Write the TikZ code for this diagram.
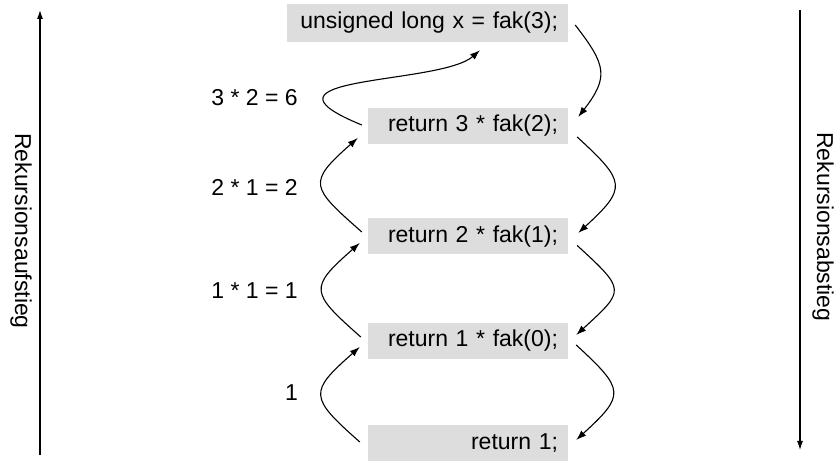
\documentclass[tikz,border=0pt]{standalone}
\usepackage{fontspec}
\setmainfont{Liberation Sans}
\usetikzlibrary{arrows.meta}
\definecolor{boxgray}{RGB}{221,221,221}
\begin{document}
\begin{tikzpicture}[x=1pt,y=1pt,
  font=\fontsize{23}{27}\selectfont,
  codebox/.style={fill=boxgray, inner xsep=10pt, inner ysep=0pt, minimum height=36pt, align=right},
  flow/.style={line width=1.1pt, -{Latex[length=10pt,width=7pt]}},
  axisline/.style={line width=1.1pt, -{Latex[length=9pt,width=6pt]}},
  lbl/.style={anchor=east, inner sep=0pt}
]
\useasboundingbox (0,0) rectangle (840,462);

% code boxes
\node[codebox, text width=261pt, minimum height=38pt] (b0) at (427.5,439) {unsigned long x = fak(3);};
\node[codebox, text width=180pt] (b1) at (468,336) {return 3 * fak(2);};
\node[codebox, text width=180pt] (b2) at (468,225.5) {return 2 * fak(1);};
\node[codebox, text width=180pt] (b3) at (468,121) {return 1 * fak(0);};
\node[codebox, text width=180pt] (b4) at (468,19) {return 1;};

% result labels
\node[lbl] (l0) at (298,364) {3 * 2 = 6};
\node[lbl] (l1) at (298,275) {2 * 1 = 2};
\node[lbl] (l2) at (298,171) {1 * 1 = 1};
\node[lbl] (l3) at (298,69) {1};

% descent (right side)
\draw[flow] ([shift={(7,-2)}]b0.east) .. controls +(31,-40) and +(31,40) .. ([shift={(10,9)}]b1.east);
\draw[flow] ([shift={(9,-11)}]b1.east) .. controls +(49,-45) and +(49,45) .. ([shift={(10,3.5)}]b2.east);
\draw[flow] ([shift={(9,-9)}]b2.east) .. controls +(49,-45) and +(49,45) .. ([shift={(8,6)}]b3.east);
\draw[flow] ([shift={(8,-4)}]b3.east) .. controls +(49,-45) and +(49,45) .. ([shift={(8,3)}]b4.east);

% ascent (left side)
\draw[flow] ([shift={(-8,1)}]b4.west) .. controls +(-51,45) and +(-51,-45) .. ([shift={(-8,-6)}]b3.west);
\draw[flow] ([shift={(-7,4)}]b3.west) .. controls +(-51,45) and +(-51,-45) .. ([shift={(-8,-6.5)}]b2.west);
\draw[flow] ([shift={(-6,4.5)}]b2.west) .. controls +(-51,45) and +(-51,-45) .. ([shift={(-10,-12)}]b1.west);
\draw[flow] ([shift={(-6,1)}]b1.west) .. controls +(-122,50) and +(-40,-35) .. ([shift={(52.5,-8)}]b0.south);

% side axes
\coordinate (la0) at (40,7);
\coordinate (la1) at (40,452);
\coordinate (ra0) at (800,452);
\coordinate (ra1) at (800,12);
\draw[axisline] (la0) -- (la1);
\draw[axisline] (ra0) -- (ra1);
\node[rotate=-90] (upl) at (21,231) {Rekursionsaufstieg};
\node[rotate=-90] (downl) at (823,235) {Rekursionsabstieg};
\end{tikzpicture}
\end{document}
